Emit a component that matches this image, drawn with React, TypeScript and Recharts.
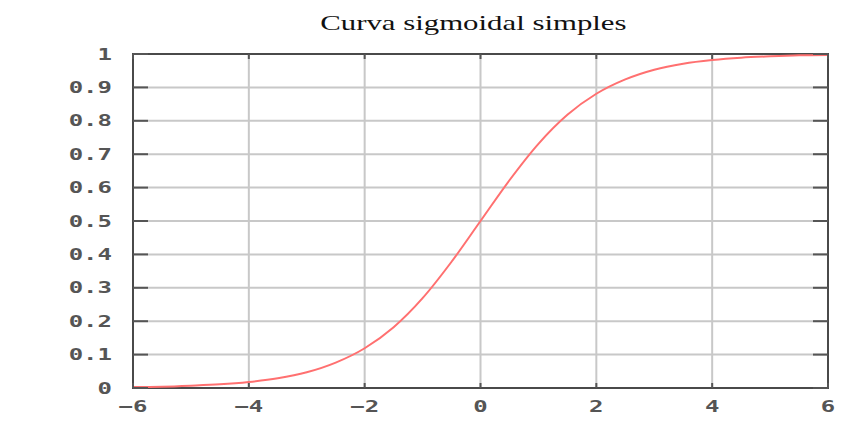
import React from 'react';
import {
  LineChart,
  Line,
  XAxis,
  YAxis,
  CartesianGrid,
  ReferenceArea
} from 'recharts';

// x positions and the curve height
const xs = [-6, -5.5, -5, -4.5, -4, -3.5, -3, -2.5, -2, -1.5, -1, -0.5, 0, 0.5, 1, 1.5, 2, 2.5, 3, 3.5, 4, 4.5, 5, 5.5, 6];
const ys = [0.003, 0.004, 0.007, 0.011, 0.018, 0.029, 0.047, 0.076, 0.119, 0.182, 0.269, 0.378, 0.5, 0.622, 0.731, 0.818, 0.881, 0.924, 0.953, 0.971, 0.982, 0.989, 0.993, 0.996, 0.997];

const xTicks = [-6, -4, -2, 0, 2, 4, 6];
const yTicks = [0, 0.1, 0.2, 0.3, 0.4, 0.5, 0.6, 0.7, 0.8, 0.9, 1];

const title = 'Curva sigmoidal simples';

const data = xs.map((x, i) => ({ x, y: ys[i] }));

const fontMono = '"DejaVu Sans Mono", monospace';
const labelColor = '#555';

// the reference labels look horizontally stretched, so scale them sideways
function XTick(props: any) {
  const { x, y, payload } = props;
  const v = payload.value as number;
  const s = v < 0 ? '\u2212' + Math.abs(v) : String(v);
  return (
    <text
      transform={`translate(${x},${y}) scale(1.5,1)`}
      textAnchor="middle"
      dy="0.71em"
      fontFamily={fontMono}
      fontSize={16}
      fontWeight="bold"
      fill={labelColor}
    >
      {s}
    </text>
  );
}

function YTick(props: any) {
  const { x, y, payload } = props;
  const v = payload.value as number;
  const s = v === 0 || v === 1 ? String(v) : v.toFixed(1);
  return (
    <text
      transform={`translate(${x},${y}) scale(1.5,1)`}
      textAnchor="end"
      dy="0.35em"
      fontFamily={fontMono}
      fontSize={16}
      fontWeight="bold"
      fill={labelColor}
    >
      {s}
    </text>
  );
}

const blank = () => <text />;

export default function App() {
  return (
    <div style={{ position: 'absolute', left: 0, top: 0, width: 865, height: 428, background: '#fff' }}>
      <div
        style={{
          position: 'absolute',
          left: 0,
          width: 946,
          top: 10,
          textAlign: 'center',
          fontFamily: '"Liberation Serif", "Times New Roman", serif',
          fontSize: 22,
          color: '#111'
        }}
      >
        <span style={{ display: 'inline-block', transform: 'scaleX(1.4)' }}>{title}</span>
      </div>
      <LineChart
        width={865}
        height={428}
        data={data}
        margin={{ top: 53, right: 36, left: 93, bottom: 10 }}
      >
        <CartesianGrid stroke="#c8c8c8" strokeWidth={2} vertical horizontal />
        <XAxis
          dataKey="x"
          type="number"
          domain={[-6, 6]}
          ticks={xTicks}
          height={30}
          axisLine={false}
          tickSize={-5}
          tickMargin={18}
          tickLine={{ stroke: '#555', strokeWidth: 2 }}
          tick={XTick}
        />
        <XAxis
          xAxisId="top"
          orientation="top"
          dataKey="x"
          type="number"
          domain={[-6, 6]}
          ticks={xTicks}
          height={1}
          axisLine={false}
          tickSize={-5}
          tickLine={{ stroke: '#555', strokeWidth: 2 }}
          tick={blank}
        />
        <YAxis
          type="number"
          domain={[0, 1]}
          ticks={yTicks}
          width={40}
          axisLine={false}
          tickSize={-15}
          tickMargin={36}
          tickLine={{ stroke: '#555', strokeWidth: 2 }}
          tick={YTick}
        />
        <YAxis
          yAxisId="right"
          orientation="right"
          type="number"
          domain={[0, 1]}
          ticks={yTicks}
          width={1}
          axisLine={false}
          tickSize={-15}
          tickLine={{ stroke: '#555', strokeWidth: 2 }}
          tick={blank}
        />
        <ReferenceArea
          x1={-6}
          x2={6}
          y1={0}
          y2={1}
          fill="none"
          stroke="#4a4a4a"
          strokeWidth={2}
          fillOpacity={0}
        />
        {/* invisible copy so the top/right axes are bound to a series */}
        <Line
          xAxisId="top"
          yAxisId="right"
          type="monotone"
          dataKey="y"
          stroke="none"
          dot={false}
          isAnimationActive={false}
        />
        <Line
          type="monotone"
          dataKey="y"
          stroke="#ff7070"
          strokeWidth={2}
          dot={false}
          isAnimationActive={false}
        />
      </LineChart>
    </div>
  );
}
